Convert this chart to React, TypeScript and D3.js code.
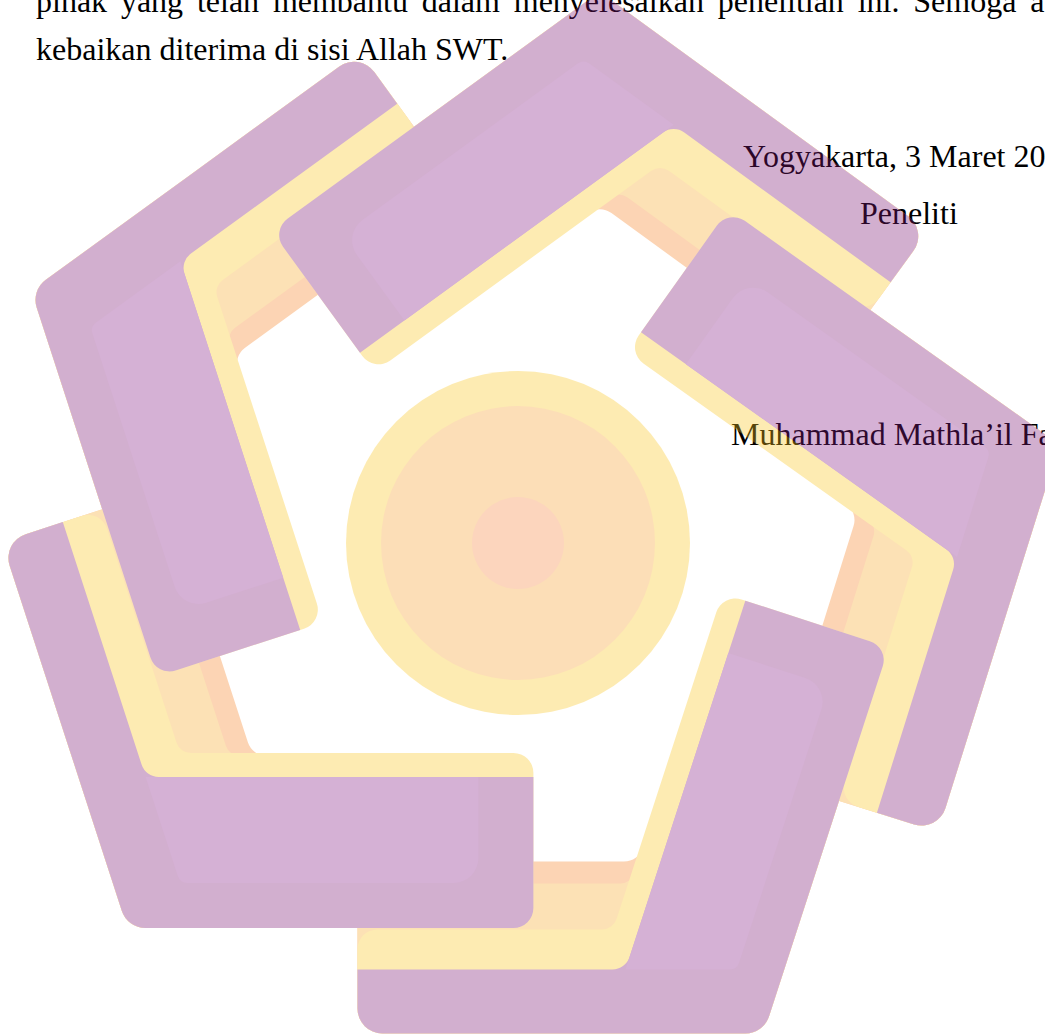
import * as d3 from 'd3';

type Pt = [number, number];

// page text
const paragraphLines = [
  'pihak yang telah membantu dalam menyelesaikan penelitian ini. Semoga a',
  'kebaikan diterima di sisi Allah SWT.',
];
const placeLine = 'Yogyakarta, 3 Maret 20';
const roleLine = 'Peneliti';
const nameLine = 'Muhammad Mathla\u2019il Fa';

// watermark: five L pieces turned around the centre (scan is not perfectly regular)
const pieceAngles = [0, 72, 144, 215.4, 288];
const pieceShift: Pt[] = [
  [0, 0],
  [0, 0],
  [-8, -10],
  [0, -11],
  [0, 0],
];
const backBands = ['orange', 'lightOrange', 'yellow'];
const circleRings = ['circleOuter', 'circleMid', 'circleInner'];

const W = 1045;
const H = 1034;
const FONT = "'Liberation Serif', 'Times New Roman', serif";
const FONT_SIZE = 32;

const ALPHA = 0.34;
const PALETTE: Record<string, string> = {
  orange: '#FDD5B5',
  lightOrange: '#FDE2B6',
  yellow: '#FEECB3',
  purple: '#D3B0D0',
  highlight: '#D6B2D6',
  circleOuter: '#FEECB3',
  circleMid: '#FDDFB8',
  circleInner: '#FDD6BE',
};

// geometry of the base piece (bottom-left one)
const C: Pt = [518, 543];
const V: Pt = [127.4, 928];
const ARM = 406;
const RING_R: Record<string, number> = { circleOuter: 172, circleMid: 137, circleInner: 46 };
const THICK: Record<string, number> = { purple: 151, yellow: 175, lightOrange: 172, orange: 172 };
const THIN: Record<string, number> = { purple: 64, yellow: 104, lightOrange: 150, orange: 172 };
const THICK_LEN: Record<string, number> = { purple: ARM, yellow: ARM, lightOrange: 380, orange: 380 };
const RADII: Record<string, number[]> = {
  purple: [25, 20, 0, 18, 0, 25],
  yellow: [25, 20, 20, 15, 20, 25],
  lightOrange: [25, 20, 20, 15, 20, 25],
  orange: [25, 20, 20, 20, 20, 25],
};

const dir = (deg: number): Pt => [Math.cos((deg * Math.PI) / 180), Math.sin((deg * Math.PI) / 180)];
const add = (p: Pt, q: Pt, k = 1): Pt => [p[0] + q[0] * k, p[1] + q[1] * k];

const A_DIR = dir(0);
const A_IN = dir(-90);
const B_DIR = dir(252);
const B_IN = dir(-18);

function intersect(p1: Pt, d1: Pt, p2: Pt, d2: Pt): Pt {
  const det = -d1[0] * d2[1] + d1[1] * d2[0];
  const rx = p2[0] - p1[0];
  const ry = p2[1] - p1[1];
  const s = (-rx * d2[1] + ry * d2[0]) / det;
  return add(p1, d1, s);
}

function lPoints(w1: number, w2: number, l1: number, l2: number): Pt[] {
  const p2 = add(V, A_DIR, l1);
  const p3 = add(p2, A_IN, w1);
  const p4 = intersect(add(V, A_IN, w1), A_DIR, add(V, B_IN, w2), B_DIR);
  const p6 = add(V, B_DIR, l2);
  const p5 = add(p6, B_IN, w2);
  return [V, p2, p3, p4, p5, p6];
}

function roundedPoly(pts: Pt[], radii: number[]) {
  const p = d3.path();
  const n = pts.length;
  const last = pts[n - 1];
  p.moveTo((last[0] + pts[0][0]) / 2, (last[1] + pts[0][1]) / 2);
  pts.forEach((cur, i) => {
    const nxt = pts[(i + 1) % n];
    if (radii[i] > 0) p.arcTo(cur[0], cur[1], nxt[0], nxt[1], radii[i]);
    else p.lineTo(cur[0], cur[1]);
  });
  p.closePath();
  return p.toString();
}

// colour that gives the wanted tint once the watermark layer is faded
function under(hex: string) {
  const c = d3.rgb(hex);
  const f = (v: number) => Math.max(0, Math.min(255, (v - 255 * (1 - ALPHA)) / ALPHA));
  return d3.rgb(f(c.r), f(c.g), f(c.b)).formatHex();
}

const bandPath = (band: string) =>
  roundedPoly(lPoints(THICK[band], THIN[band], THICK_LEN[band], ARM), RADII[band]);

// lighter inner patch on the thick arm
const highlightPath = (() => {
  const inset = 45;
  const h1 = intersect(add(V, A_IN, inset), A_DIR, add(V, B_IN, THIN.purple), B_DIR);
  const h2 = add(add(V, A_DIR, ARM - 55), A_IN, inset);
  const h3 = add(add(V, A_DIR, ARM - 55), A_IN, THICK.purple);
  const h4 = intersect(add(V, A_IN, THICK.purple), A_DIR, add(V, B_IN, THIN.purple), B_DIR);
  return roundedPoly([h1, h2, h3, h4], [10, 25, 0, 0]);
})();

export default function App() {
  const place = (i: number) =>
    `translate(${pieceShift[i][0]},${pieceShift[i][1]}) rotate(${pieceAngles[i]},${C[0]},${C[1]})`;
  return (
    <svg
      width={W}
      height={H}
      viewBox={`0 0 ${W} ${H}`}
      style={{ position: 'absolute', left: 0, top: 0, background: '#fff' }}
    >
      <g fill="#000" fontFamily={FONT} fontSize={FONT_SIZE}>
        <text x={36} y={12} style={{ wordSpacing: '5.8px' }}>
          {paragraphLines[0]}
        </text>
        <text x={36} y={60}>
          {paragraphLines[1]}
        </text>
        <text x={743} y={167}>
          {placeLine}
        </text>
        <text x={860} y={224}>
          {roleLine}
        </text>
        <text x={731} y={445}>
          {nameLine}
        </text>
      </g>

      <g opacity={ALPHA}>
        {circleRings.map((k) => (
          <circle key={k} cx={C[0]} cy={C[1]} r={RING_R[k]} fill={under(PALETTE[k])} />
        ))}
        {backBands.map((band) =>
          pieceAngles.map((a, i) => (
            <path key={`${band}-${a}`} d={bandPath(band)} transform={place(i)} fill={under(PALETTE[band])} />
          ))
        )}
        {pieceAngles.map((a, i) => (
          <g key={`p-${a}`} transform={place(i)}>
            <path d={bandPath('purple')} fill={under(PALETTE.purple)} />
            <path d={highlightPath} fill={under(PALETTE.highlight)} />
          </g>
        ))}
      </g>
    </svg>
  );
}
